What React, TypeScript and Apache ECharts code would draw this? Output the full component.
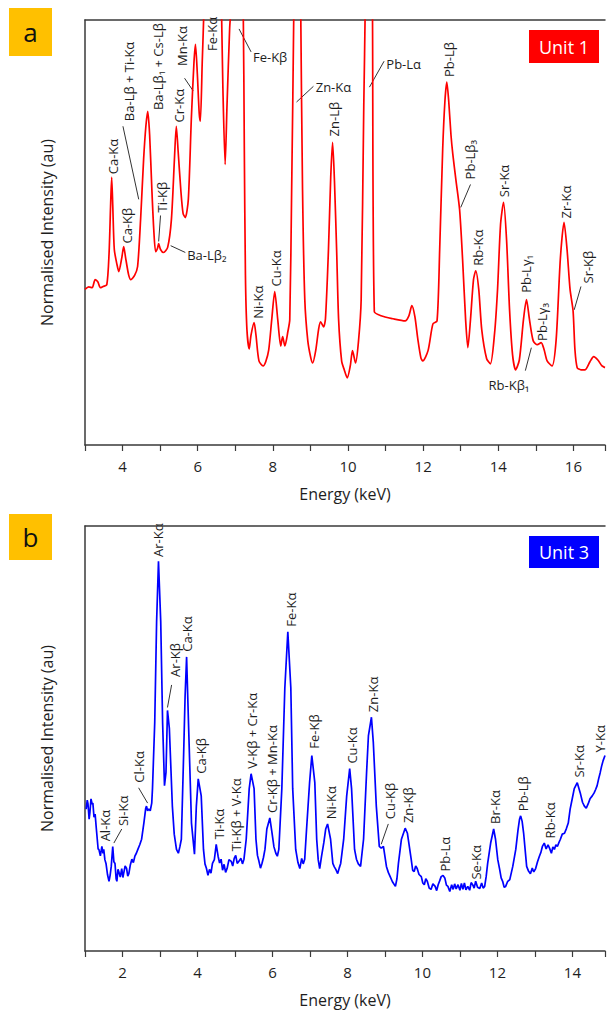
import React, { useEffect, useRef } from "react";
import * as echarts from "echarts";

// ---------- Panel a (Unit 1) ----------
const energyA = [
  3.0, 3.1, 3.19, 3.27, 3.34, 3.41, 3.48, 3.58, 3.64, 3.68, 3.71, 3.74, 3.78, 3.85, 3.9, 3.98, 4.03, 4.08, 4.16, 4.22,
  4.32, 4.4, 4.48, 4.56, 4.62, 4.67, 4.72, 4.78, 4.83, 4.88, 4.93, 4.96, 5.01, 5.09, 5.2, 5.3, 5.38, 5.43, 5.48, 5.55,
  5.61, 5.67, 5.75, 5.83, 5.9, 5.94, 5.99, 6.04, 6.07, 6.12, 6.17, 6.4, 6.63, 6.67, 6.73, 6.78, 6.85, 6.89, 7.05, 7.21,
  7.24, 7.27, 7.31, 7.37, 7.42, 7.5, 7.55, 7.63, 7.74, 7.81, 7.89, 7.97, 8.05, 8.13, 8.21, 8.26, 8.32, 8.4, 8.45, 8.5,
  8.56, 8.65, 8.74, 8.79, 8.85, 8.93, 9.01, 9.06, 9.14, 9.22, 9.27, 9.35, 9.4, 9.48, 9.54, 9.59, 9.64, 9.7, 9.75, 9.83,
  9.9, 9.98, 10.06, 10.12, 10.2, 10.28, 10.35, 10.42, 10.46, 10.55, 10.65, 10.7, 10.88, 11.2, 11.52, 11.62, 11.7, 11.78,
  11.86, 11.94, 11.99, 12.13, 12.26, 12.37, 12.44, 12.52, 12.58, 12.63, 12.68, 12.74, 12.79, 12.87, 12.97, 13.05, 13.13,
  13.19, 13.26, 13.34, 13.4, 13.48, 13.56, 13.69, 13.79, 13.9, 13.98, 14.06, 14.14, 14.22, 14.3, 14.38, 14.46, 14.56,
  14.67, 14.75, 14.83, 14.93, 15.04, 15.14, 15.22, 15.3, 15.43, 15.54, 15.65, 15.75, 15.83, 15.91, 15.99, 16.04, 16.1,
  16.2, 16.31, 16.44, 16.54, 16.65, 16.76, 16.84,
];
const intensityA = [
  36.6, 37.2, 37.0, 38.9, 38.4, 37.0, 37.3, 37.7, 45.0, 56.0, 63.0, 56.0, 46.0, 42.5, 40.8, 44.1, 46.7, 44.1, 40.1, 38.9,
  39.9, 42.0, 53.1, 67.2, 75.0, 78.5, 73.0, 60.0, 50.7, 45.5, 46.3, 47.4, 46.0, 45.3, 46.5, 53.1, 67.2, 75.0, 69.0, 60.0,
  54.5, 53.5, 57.8, 76.7, 90.0, 94.3, 87.3, 78.0, 76.2, 90.0, 104, 200, 104, 84, 66.0, 80, 98, 104, 180, 104,
  70, 40, 27.1, 22.6, 25.9, 28.8, 25.9, 19.8, 18.6, 19.6, 22.4, 29.5, 36.1, 29.5, 23.3, 25.5, 23.3, 26.7, 29.5, 60,
  104, 200, 104, 60, 34.2, 24.5, 20.5, 19.3, 22.2, 27.4, 29.0, 27.8, 29.7, 46.0, 63.0, 71.2, 62.0, 45.0, 29.5, 19.8,
  17.7, 15.8, 18.6, 22.2, 19.3, 24.5, 34.2, 80, 104, 200, 104, 31.4, 30.4, 29.7, 29.2, 30.4, 32.8, 30.2,
  24.8, 20.5, 19.8, 22.2, 28.5, 29.2, 46.0, 69.6, 81.0, 85.4, 81.0, 73.0, 68.4, 62.5, 55.4, 43.6, 29.5,
  22.9, 29.5, 38.9, 41.0, 36.6, 27.1, 20.3, 19.1, 26.2, 36.6, 51.9, 57.1, 48.3, 31.8, 21.2, 17.7, 20.0,
  29.5, 34.2, 29.5, 24.5, 23.6, 24.1, 22.4, 19.8, 18.6, 24.8, 43.6, 52.4, 46.0, 36.6, 31.6, 22.4, 18.2,
  17.7, 17.7, 19.6, 20.8, 20.0, 18.6, 18.2,
];

// ---------- Panel b (Unit 3) ----------
const energyB = [
  1.03, 1.06, 1.08, 1.11, 1.13, 1.16, 1.19, 1.21, 1.24, 1.27, 1.3, 1.32, 1.35, 1.37, 1.41, 1.45, 1.48, 1.5, 1.53, 1.56,
  1.6, 1.64, 1.67, 1.7, 1.74, 1.77, 1.8, 1.83, 1.85, 1.88, 1.9, 1.94, 1.98, 2.01, 2.03, 2.07, 2.11, 2.14, 2.17, 2.21,
  2.25, 2.29, 2.33, 2.37, 2.41, 2.46, 2.51, 2.57, 2.62, 2.64, 2.67, 2.7, 2.74, 2.78, 2.8, 2.86, 2.91, 2.96, 3.02, 3.07,
  3.12, 3.16, 3.2, 3.25, 3.33, 3.38, 3.44, 3.49, 3.53, 3.57, 3.63, 3.67, 3.71, 3.76, 3.84, 3.92, 3.97, 4.02, 4.1, 4.16,
  4.2, 4.24, 4.28, 4.32, 4.36, 4.4, 4.45, 4.5, 4.55, 4.59, 4.63, 4.67, 4.71, 4.75, 4.79, 4.84, 4.9, 4.94, 4.98, 5.02,
  5.06, 5.11, 5.16, 5.2, 5.24, 5.3, 5.38, 5.43, 5.51, 5.56, 5.6, 5.64, 5.68, 5.72, 5.76, 5.8, 5.85, 5.93, 5.99, 6.04,
  6.09, 6.13, 6.17, 6.25, 6.33, 6.41, 6.49, 6.54, 6.62, 6.68, 6.73, 6.78, 6.82, 6.86, 6.91, 6.99, 7.05, 7.13, 7.18, 7.22,
  7.26, 7.31, 7.37, 7.42, 7.47, 7.55, 7.61, 7.65, 7.69, 7.74, 7.78, 7.82, 7.9, 7.98, 8.06, 8.11, 8.19, 8.24, 8.29, 8.35,
  8.43, 8.51, 8.56, 8.64, 8.69, 8.77, 8.85, 8.9, 8.96, 9.04, 9.09, 9.14, 9.2, 9.28, 9.32, 9.36, 9.44, 9.54, 9.6, 9.7,
  9.74, 9.78, 9.82, 9.86, 9.91, 9.97, 10.01, 10.05, 10.09, 10.13, 10.18, 10.23, 10.28, 10.34, 10.38, 10.42, 10.46, 10.5,
  10.55, 10.6, 10.64, 10.68, 10.73, 10.78, 10.82, 10.86, 10.9, 10.95, 11.0, 11.04, 11.08, 11.12, 11.16, 11.21, 11.26,
  11.3, 11.34, 11.38, 11.42, 11.47, 11.53, 11.58, 11.62, 11.66, 11.7, 11.74, 11.82, 11.9, 11.95, 12.01, 12.06, 12.1,
  12.14, 12.18, 12.22, 12.27, 12.33, 12.41, 12.49, 12.55, 12.59, 12.62, 12.66, 12.7, 12.78, 12.83, 12.88, 12.93, 12.97,
  13.02, 13.07, 13.12, 13.16, 13.2, 13.25, 13.3, 13.35, 13.39, 13.44, 13.48, 13.52, 13.56, 13.6, 13.64, 13.68, 13.73,
  13.79, 13.84, 13.89, 13.94, 14.0, 14.05, 14.13, 14.21, 14.27, 14.32, 14.37, 14.42, 14.47, 14.53, 14.58, 14.62, 14.66,
  14.7, 14.74, 14.78, 14.82, 14.87,
];
const intensityB = [
  33.4, 35.5, 34.6, 31.0, 32.5, 35.8, 34.6, 34.8, 31.5, 32.2, 29.0, 27.0, 24.0, 23.9, 22.4, 24.6, 23.0, 23.9, 21.5, 20.6,
  18.0, 16.4, 17.8, 19.9, 24.6, 21.0, 20.6, 17.0, 16.4, 19.2, 18.7, 17.4, 19.4, 17.3, 18.2, 20.0, 19.4, 17.6, 18.2, 20.3,
  21.6, 20.8, 22.3, 23.0, 23.9, 25.0, 26.3, 30.1, 33.6, 34.1, 33.0, 33.4, 33.0, 34.8, 38.2, 53.8, 77.5, 91.7, 77.5, 53.8,
  38.9, 42.0, 56.6, 52.4, 34.1, 27.5, 23.9, 23.0, 24.5, 26.3, 46.0, 60.0, 69.2, 53.8, 30.1, 22.8, 34.1, 40.5, 36.5, 23.9,
  20.5, 19.4, 17.8, 19.2, 18.3, 20.6, 21.5, 25.1, 22.3, 20.7, 21.6, 19.0, 20.4, 18.5, 19.4, 21.5, 21.1, 20.0, 21.8, 22.5,
  20.6, 21.2, 21.8, 20.5, 21.6, 26.3, 38.2, 41.7, 38.2, 26.3, 22.5, 21.1, 19.5, 20.6, 22.0, 23.9, 28.7, 31.3, 27.7, 24.5,
  23.0, 22.3, 23.9, 38.2, 61.9, 75.1, 61.9, 38.2, 23.9, 20.8, 19.4, 21.8, 20.5, 21.6, 28.7, 39.6, 46.0, 39.6, 26.3, 21.5,
  19.4, 22.3, 25.5, 28.7, 29.9, 26.3, 20.6, 19.8, 19.2, 18.2, 19.5, 20.6, 26.3, 36.5, 42.9, 38.2, 23.9, 21.6, 20.5, 19.9,
  26.3, 41.9, 50.7, 55.0, 49.1, 34.1, 24.6, 24.2, 24.6, 19.9, 18.5, 17.5, 16.3, 15.2, 17.0, 20.6, 26.3, 28.9, 27.7, 21.6,
  19.0, 18.7, 20.0, 19.4, 18.0, 17.5, 16.0, 15.6, 17.0, 16.4, 14.8, 14.5, 15.8, 15.2, 14.2, 15.6, 16.5, 17.5,
  17.8, 17.1, 15.5, 15.2, 14.0, 15.6, 14.5, 15.8, 14.6, 15.6, 14.3, 15.9, 14.5, 16.0, 14.4, 15.2, 14.3,
  16.1, 15.6, 14.8, 16.4, 15.0, 14.7, 16.0, 14.8, 15.2, 17.5, 20.6, 25.4, 28.7, 26.3, 21.5, 19.2, 17.2,
  16.4, 15.0, 15.2, 16.3, 16.8, 19.9, 23.9, 28.5, 31.0, 31.8, 30.5, 27.7, 19.9, 18.8, 18.2, 19.5, 18.6,
  19.4, 21.0, 22.3, 23.2, 24.6, 25.4, 24.0, 25.0, 24.2, 23.0, 24.5, 23.9, 25.0, 24.6, 25.5, 26.3, 27.5,
  27.7, 28.8, 30.1, 33.4, 36.0, 38.2, 39.6, 37.2, 35.0, 34.1, 33.6, 34.6, 35.8, 36.5, 37.2, 38.0, 38.9,
  40.5, 41.9, 43.5, 44.8, 46.0,
];

// ---------- Axis ranges and titles ----------
const xRangeA = [3, 16.84];
const xRangeB = [1, 14.87];
const yRange = [0, 100];
const xTitle = "Energy (keV)";
const yTitle = "Normalised Intensity (au)";

// ---------- Peak annotations: [text, energy, intensity at text start] ----------
const verticalLabelsA: [string, number, number][] = [
  ["Ca-Kα", 3.74, 63.7],
  ["Ca-Kβ", 4.11, 47.4],
  ["Ba-Lβ + Ti-Kα", 4.16, 76.2],
  ["Ba-Lβ₁ + Cs-Lβ", 4.93, 78.8],
  ["Ti-Kβ", 5.04, 54.7],
  ["Cr-Kα", 5.51, 75.9],
  ["Mn-Kα", 5.57, 89.2],
  ["Fe-Kα", 6.39, 92.7],
  ["Ni-Kα", 7.6, 29.7],
  ["Cu-Kα", 8.08, 37.3],
  ["Zn-Lβ", 9.64, 72.6],
  ["Pb-Lβ", 12.69, 86.6],
  ["Pb-Lβ₃", 13.26, 62.5],
  ["Rb-Kα", 13.45, 42.2],
  ["Sr-Kα", 14.16, 58.3],
  ["Pb-Lγ₁", 14.75, 35.8],
  ["Pb-Lγ₃", 15.17, 24.5],
  ["Zr-Kα", 15.8, 53.3],
  ["Sr-Kβ", 16.39, 38.0],
];
const horizontalLabelsA: [string, number, number][] = [
  ["Ba-Lβ₂", 5.72, 44.8],
  ["Fe-Kβ", 7.47, 91.3],
  ["Zn-Kα", 9.14, 84.2],
  ["Pb-Lα", 11.02, 89.6],
  ["Rb-Kβ₁", 13.74, 14.2],
];
const leadersA: [number, number, number, number][] = [
  [4.01, 75.0, 4.43, 57.8],
  [5.01, 54.0, 4.96, 47.9],
  [5.28, 46.9, 5.67, 45.3],
  [5.65, 86.3, 5.88, 83.3],
  [7.1, 97.9, 7.42, 92.5],
  [8.63, 80.7, 9.08, 84.4],
  [10.57, 84.2, 10.96, 90.3],
  [13.26, 61.3, 13.0, 55.9],
  [14.72, 17.5, 14.88, 22.9],
  [16.2, 37.3, 16.02, 31.8],
];

const verticalLabelsB: [string, number, number][] = [
  ["Al-Kα", 1.53, 25.8],
  ["Si-Kα", 2.01, 29.4],
  ["Cl-Kα", 2.43, 39.6],
  ["Ar-Kα", 2.96, 92.7],
  ["Ar-Kβ", 3.39, 64.5],
  ["Ca-Kα", 3.73, 70.4],
  ["Ca-Kβ", 4.1, 41.7],
  ["Ti-Kα", 4.58, 26.3],
  ["Ti-Kβ + V-Kα", 5.03, 23.5],
  ["V-Kβ + Cr-Kα", 5.46, 42.9],
  ["Cr-Kβ + Mn-Kα", 5.99, 32.5],
  ["Fe-Kα", 6.49, 76.3],
  ["Fe-Kβ", 7.1, 47.6],
  ["Ni-Kα", 7.55, 31.0],
  ["Cu-Kα", 8.11, 44.1],
  ["Zn-Kα", 8.69, 56.2],
  ["Cu-Kβ", 9.14, 31.0],
  ["Zn-Kβ", 9.62, 30.1],
  ["Pb-Lα", 10.6, 18.7],
  ["Se-Kα", 11.42, 16.8],
  ["Br-Kα", 11.93, 29.9],
  ["Pb-Lβ", 12.67, 32.9],
  ["Rb-Kα", 13.39, 26.5],
  ["Sr-Kα", 14.18, 40.8],
  ["Y-Kα", 14.74, 46.7],
];
const leadersB: [number, number, number, number][] = [
  [1.98, 28.7, 1.77, 25.4],
  [2.43, 38.4, 2.67, 34.8],
  [3.31, 62.6, 3.2, 57.3],
  [9.09, 29.9, 8.9, 25.1],
];

const FONT = "Open Sans";
const INK = "#1e1e1e";
const AXIS = "#3a3a3a";
const LABEL_SIZE = 13;

function xAxisPair(gridIndex: number, range: number[]) {
  return [
    {
      type: "value",
      gridIndex,
      min: range[0],
      max: range[1],
      interval: 1,
      axisLine: { show: true, onZero: false, lineStyle: { color: AXIS, width: 1.5 } },
      axisTick: { show: true, inside: false, length: 6, lineStyle: { color: AXIS, width: 1.2 } },
      axisLabel: {
        margin: 13,
        fontSize: 15,
        color: INK,
        fontFamily: FONT,
        formatter: (v: number) => (Math.abs(v % 2) < 1e-6 ? String(v) : ""),
      },
      splitLine: { show: false },
      name: xTitle,
      nameLocation: "middle",
      nameGap: 41,
      nameTextStyle: { fontSize: 16, color: INK, fontFamily: FONT },
    },
    {
      type: "value",
      gridIndex,
      position: "top",
      min: range[0],
      max: range[1],
      axisLine: { show: true, onZero: false, lineStyle: { color: AXIS, width: 1.5 } },
      axisTick: { show: false },
      axisLabel: { show: false },
      splitLine: { show: false },
    },
  ];
}

function yAxisOf(gridIndex: number) {
  return {
    type: "value",
    gridIndex,
    min: yRange[0],
    max: yRange[1],
    axisLine: { show: true, onZero: false, lineStyle: { color: AXIS, width: 1.5 } },
    axisTick: { show: false },
    axisLabel: { show: false },
    splitLine: { show: false },
    name: yTitle,
    nameLocation: "middle",
    nameGap: 30,
    nameTextStyle: { fontSize: 16, color: INK, fontFamily: FONT },
  };
}

export default function App() {
  const ref = useRef<HTMLDivElement>(null);
  useEffect(() => {
    const chart = echarts.init(ref.current!, null, { renderer: "svg" });
    const option: any = {
      animation: false,
      backgroundColor: "#ffffff",
      textStyle: { fontFamily: FONT },
      grid: [
        { left: 85, width: 523, top: 20, height: 425 },
        { left: 85, width: 523, top: 526, height: 425 },
      ],
      xAxis: [...xAxisPair(0, xRangeA), ...xAxisPair(1, xRangeB)],
      yAxis: [yAxisOf(0), yAxisOf(1)],
      series: [
        {
          type: "line",
          xAxisIndex: 0,
          yAxisIndex: 0,
          data: energyA.map((e, i) => [e, intensityA[i]]),
          showSymbol: false,
          smooth: 0.25,
          clip: true,
          lineStyle: { color: "#ff0000", width: 1.7 },
        },
        {
          type: "line",
          xAxisIndex: 2,
          yAxisIndex: 1,
          data: energyB.map((e, i) => [e, intensityB[i]]),
          showSymbol: false,
          clip: true,
          lineStyle: { color: "#0000ff", width: 1.7 },
        },
      ],
    };
    chart.setOption(option);

    const g: any[] = [];
    const px = (s: number, e: number, v: number) => chart.convertToPixel({ seriesIndex: s }, [e, v]) as number[];
    const textStyle = (t: string) => ({
      text: t, x: 0, y: 0, align: "left", verticalAlign: "middle", textAlign: "left", textVerticalAlign: "middle",
      fontSize: LABEL_SIZE, fontFamily: FONT, fill: INK,
    });
    const addVertical = (s: number, list: [string, number, number][]) =>
      list.forEach(([t, e, v]) => {
        const p = px(s, e, v);
        g.push({ type: "text", x: p[0], y: p[1], rotation: Math.PI / 2, silent: true, style: textStyle(t) });
      });
    const addHorizontal = (s: number, list: [string, number, number][]) =>
      list.forEach(([t, e, v]) => {
        const p = px(s, e, v);
        g.push({ type: "text", x: p[0], y: p[1], silent: true, style: textStyle(t) });
      });
    const addLeaders = (s: number, list: [number, number, number, number][]) =>
      list.forEach(([e1, v1, e2, v2]) => {
        const a = px(s, e1, v1);
        const b = px(s, e2, v2);
        g.push({ type: "line", silent: true, shape: { x1: a[0], y1: a[1], x2: b[0], y2: b[1] }, style: { stroke: "#333", lineWidth: 1 } });
      });
    addVertical(0, verticalLabelsA);
    addHorizontal(0, horizontalLabelsA);
    addLeaders(0, leadersA);
    addVertical(1, verticalLabelsB);
    addLeaders(1, leadersB);

    const badge = (x: number, y: number, w: number, h: number, fill: string, text: string, color: string, size: number) => {
      g.push({ type: "rect", silent: true, shape: { x, y, width: w, height: h }, style: { fill } });
      g.push({
        type: "text",
        silent: true,
        x: x + w / 2,
        y: y + h / 2,
        style: { text, x: 0, y: 0, align: "center", verticalAlign: "middle", textAlign: "center", textVerticalAlign: "middle", fontSize: size, fontFamily: FONT, fill: color },
      });
    };
    badge(9, 8, 43, 48, "#ffc000", "a", "#111", 26);
    badge(9, 514, 43, 46, "#ffc000", "b", "#111", 26);
    badge(529, 30, 70, 33, "#ff0000", "Unit 1", "#ffffff", 18);
    badge(529, 536, 70, 32, "#0000ff", "Unit 3", "#ffffff", 18);

    chart.setOption({ graphic: g });
    return () => chart.dispose();
  }, []);
  return <div ref={ref} style={{ position: "absolute", left: 0, top: 0, width: 608, height: 1012 }} />;
}
